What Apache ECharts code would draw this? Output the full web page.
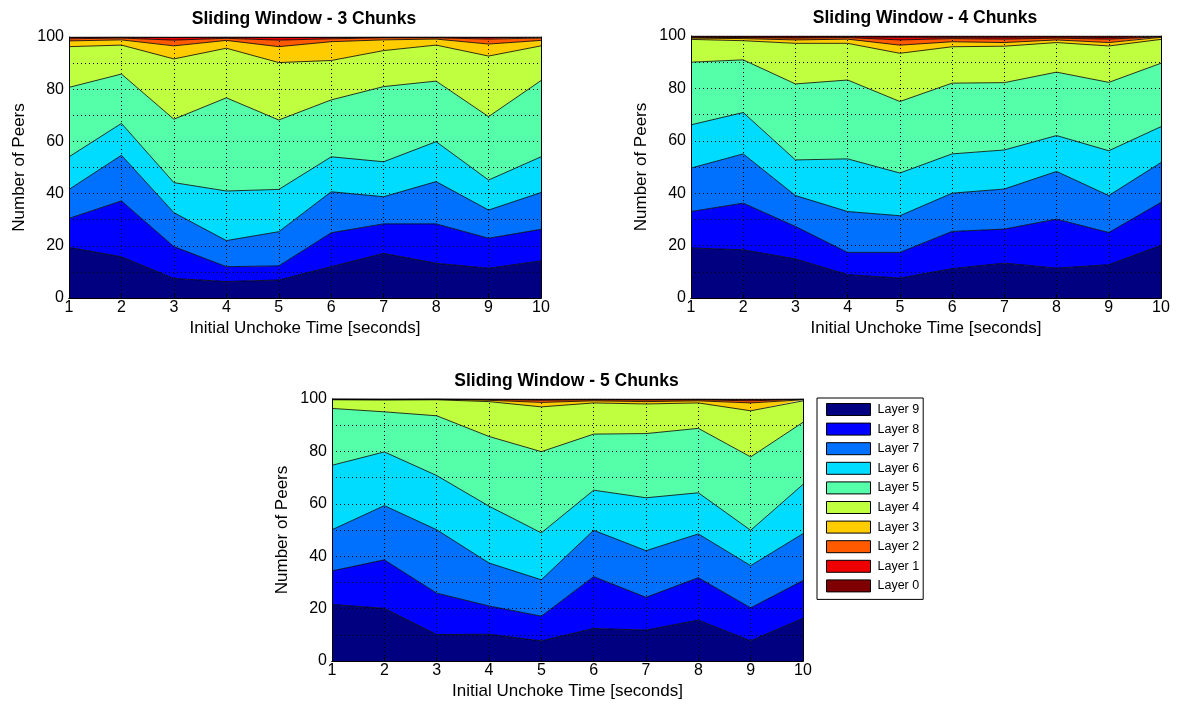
<!DOCTYPE html>
<html>
<head>
<meta charset="utf-8">
<script src="https://cdn.jsdelivr.net/npm/echarts@6/dist/echarts.min.js"></script>
<style>
html, body { margin: 0; padding: 0; background: #fff; }
#main { width: 1179px; height: 708px; }
</style>
</head>
<body>
<div id="main"></div>
<script>
// x categories and layer names (bottom of the stack first)
var times = ['1', '2', '3', '4', '5', '6', '7', '8', '9', '10'];
var layers = ['Layer 9', 'Layer 8', 'Layer 7', 'Layer 6', 'Layer 5', 'Layer 4', 'Layer 3', 'Layer 2', 'Layer 1', 'Layer 0'];
var layerColors = ['#000080', '#0000FF', '#0070FF', '#00DCFF', '#55FFAA', '#C0FF40', '#FFCC00', '#FF5A00', '#EE0000', '#7F0000'];
var yLabels = [0, 20, 40, 60, 80, 100];

// peers per layer, one row per layer (Layer 9 first), one value per unchoke time
var window3 = [
    [19.4, 15.8, 7.5, 6.3, 6.9, 12.0, 17.1, 13.3, 11.4, 14.2],
    [11.1, 21.4, 12.2, 5.7, 5.4, 13.0, 11.3, 15.1, 11.5, 12.1],
    [11.1, 17.5, 13.0, 10.0, 13.1, 15.7, 10.4, 16.2, 10.8, 14.1],
    [12.5, 12.2, 11.5, 19.0, 16.2, 13.4, 13.4, 15.3, 11.5, 13.7],
    [26.6, 18.9, 24.3, 35.7, 26.6, 21.8, 28.8, 23.2, 24.3, 29.2],
    [15.6, 11.1, 23.1, 19.0, 22.0, 15.1, 13.8, 13.8, 23.2, 13.3],
    [2.2, 2.0, 5.0, 3.0, 6.1, 7.2, 4.1, 2.3, 4.6, 2.1],
    [0.8, 0.7, 2.2, 0.8, 2.5, 1.1, 0.8, 0.5, 1.9, 0.9],
    [0.5, 0.3, 1.0, 0.4, 1.0, 0.5, 0.2, 0.2, 0.6, 0.3],
    [0.2, 0.1, 0.2, 0.1, 0.2, 0.2, 0.1, 0.1, 0.2, 0.1]
];
var window4 = [
    [19.1, 18.4, 14.9, 8.9, 7.6, 11.2, 13.3, 11.4, 12.7, 20.1],
    [13.9, 17.8, 12.4, 8.5, 9.8, 14.2, 13.0, 18.7, 12.3, 16.4],
    [16.6, 18.8, 11.8, 15.6, 14.0, 14.6, 15.3, 18.2, 14.1, 15.2],
    [16.5, 15.8, 13.6, 20.1, 16.3, 15.0, 14.9, 13.7, 17.1, 13.7],
    [23.9, 20.1, 29.0, 30.1, 27.3, 27.0, 25.7, 24.2, 26.1, 24.2],
    [8.7, 7.3, 15.5, 14.0, 18.4, 13.9, 13.9, 11.3, 13.9, 9.1],
    [0.5, 0.8, 1.3, 1.6, 3.1, 1.9, 1.4, 1.0, 1.3, 0.8],
    [0.3, 0.4, 0.7, 0.6, 2.0, 1.2, 1.3, 0.7, 1.3, 0.2],
    [0.2, 0.2, 0.3, 0.3, 1.0, 0.5, 0.7, 0.4, 0.6, 0.1],
    [0.3, 0.4, 0.5, 0.3, 0.5, 0.5, 0.5, 0.4, 0.6, 0.2]
];
var window5 = [
    [21.6, 20.1, 10.1, 10.2, 7.7, 12.4, 11.8, 15.6, 7.7, 16.3],
    [12.8, 18.5, 15.8, 10.8, 9.4, 19.8, 12.5, 16.2, 12.6, 14.4],
    [15.7, 20.7, 24.2, 16.4, 13.9, 17.7, 17.8, 16.7, 16.1, 17.9],
    [24.6, 20.5, 20.7, 21.7, 17.9, 15.3, 20.2, 15.7, 13.5, 18.8],
    [21.7, 15.3, 22.8, 26.6, 31.0, 21.4, 24.5, 24.6, 28.0, 23.7],
    [3.3, 4.5, 6.1, 13.3, 17.1, 11.9, 11.3, 9.7, 17.6, 8.2],
    [0.2, 0.2, 0.2, 0.5, 1.7, 0.8, 0.9, 0.8, 3.0, 0.4],
    [0.1, 0.1, 0.05, 0.3, 0.8, 0.4, 0.6, 0.4, 0.8, 0.2],
    [0.0, 0.05, 0.03, 0.1, 0.3, 0.2, 0.2, 0.2, 0.4, 0.05],
    [0.0, 0.05, 0.02, 0.1, 0.2, 0.1, 0.2, 0.1, 0.3, 0.05]
];

var panels = [
    { title: 'Sliding Window - 3 Chunks', data: window3, box: { left: 69, top: 37, width: 472, height: 261 } },
    { title: 'Sliding Window - 4 Chunks', data: window4, box: { left: 691, top: 36, width: 470, height: 262 } },
    { title: 'Sliding Window - 5 Chunks', data: window5, box: { left: 332, top: 399, width: 471, height: 262 } }
];

var font = 'Arial, "Liberation Sans", sans-serif';
var dotted = { show: true, lineStyle: { color: '#000', type: [1, 3], width: 1 } };

var titles = [], grids = [], xAxes = [], yAxes = [], series = [];

panels.forEach(function (p, i) {
    var b = p.box;
    grids.push({ left: b.left, top: b.top, width: b.width, height: b.height });
    titles.push({
        text: p.title,
        left: b.left + b.width / 2 - 6,
        top: b.top - 32,
        textAlign: 'center',
        textStyle: { fontFamily: font, fontSize: 17.5, fontWeight: 'bold', color: '#000' }
    });
    // main axes
    xAxes.push({
        type: 'category', gridIndex: i, data: times, boundaryGap: false, z: 5,
        name: 'Initial Unchoke Time [seconds]', nameLocation: 'middle', nameGap: 22,
        nameTextStyle: { fontFamily: font, fontSize: 17, color: '#000' },
        axisLine: { lineStyle: { color: '#000', width: 1 } },
        axisTick: { inside: true, length: 4, lineStyle: { color: '#000' } },
        axisLabel: { fontFamily: font, fontSize: 16, color: '#000', margin: 2, interval: 0 },
        splitLine: dotted
    });
    yAxes.push({
        type: 'value', gridIndex: i, min: 0, max: 100, interval: 10, z: 5,
        name: 'Number of Peers', nameLocation: 'middle', nameGap: 41,
        nameTextStyle: { fontFamily: font, fontSize: 17, color: '#000' },
        axisLine: { show: true, lineStyle: { color: '#000', width: 1 } },
        axisTick: { show: false },
        axisLabel: {
            fontFamily: font, fontSize: 16, color: '#000', margin: 5,
            formatter: function (v) { return yLabels.indexOf(v) >= 0 ? String(v) : ''; }
        },
        splitLine: dotted
    });
    // frame: top and right edges of the box
    xAxes.push({
        type: 'category', gridIndex: i, data: times, boundaryGap: false, position: 'top', z: 5,
        axisLine: { lineStyle: { color: '#000', width: 1 } },
        axisTick: { show: false }, axisLabel: { show: false }, splitLine: { show: false }
    });
    yAxes.push({
        type: 'value', gridIndex: i, min: 0, max: 100, position: 'right', z: 5,
        axisLine: { show: true, lineStyle: { color: '#000', width: 1 } },
        axisTick: { show: false }, axisLabel: { show: false }, splitLine: { show: false }
    });

    p.data.forEach(function (row, k) {
        series.push({
            name: layers[k],
            type: 'line',
            xAxisIndex: i * 2,
            yAxisIndex: i * 2,
            stack: 'panel' + i,
            data: row,
            showSymbol: false,
            symbol: 'none',
            silent: true,
            animation: false,
            itemStyle: { color: layerColors[k] },
            lineStyle: { color: '#000', width: 0.8 },
            areaStyle: { color: layerColors[k], opacity: 1 }
        });
    });
});

var myChart = echarts.init(document.getElementById('main'));
var option = {
    backgroundColor: '#fff',
    animation: false,
    title: titles,
    legend: {
        orient: 'vertical',
        left: 817,
        top: 398,
        data: layers,
        icon: 'rect',
        itemWidth: 44,
        itemHeight: 12,
        itemGap: 6.6,
        padding: [5, 4, 7, 9],
        borderColor: '#000',
        borderWidth: 1,
        backgroundColor: '#fff',
        selectedMode: false,
        itemStyle: { borderColor: '#000', borderWidth: 1 },
        textStyle: { fontFamily: font, fontSize: 12.5, lineHeight: 12, color: '#000', padding: [0, 0, 0, 2] }
    },
    grid: grids,
    xAxis: xAxes,
    yAxis: yAxes,
    series: series
};
myChart.setOption(option);
</script>
</body>
</html>
